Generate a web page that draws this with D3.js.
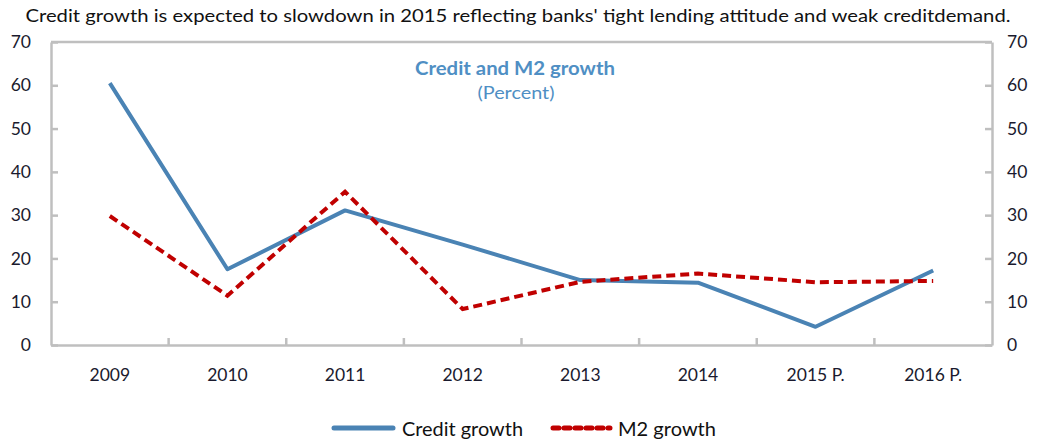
<!DOCTYPE html>
<html>
<head>
<meta charset="utf-8">
<script src="https://cdn.jsdelivr.net/npm/d3@7"></script>
<style>
  html, body { margin: 0; padding: 0; background: #fff; }
  svg { display: block; font-family: Lato, "Open Sans", sans-serif; }
</style>
</head>
<body>
<svg id="chart" width="1037" height="441"></svg>
<script>
// Categories and series (percent)
const years = ["2009", "2010", "2011", "2012", "2013", "2014", "2015 P.", "2016 P."];
const creditGrowth = [60.5, 17.5, 31.1, 23.2, 15.0, 14.4, 4.2, 17.2];
const m2Growth = [29.8, 11.4, 35.4, 8.3, 14.6, 16.5, 14.5, 14.8];
const yTicks = [0, 10, 20, 30, 40, 50, 60, 70];

const svg = d3.select("#chart");
const plotLeft = 51, plotRight = 992, plotTop = 42, plotBottom = 345;

const x = d3.scaleBand().domain(years).range([plotLeft, plotRight]);
const y = d3.scaleLinear().domain([0, 70]).range([plotBottom, plotTop]);

const axisColor = "#bfbfbf";
const textColor = "#1a1a2e";

// Title
svg.append("text")
  .attr("x", 518).attr("y", 22)
  .attr("text-anchor", "middle")
  .attr("font-size", 17.5)
  .attr("fill", "#111")
  .attr("textLength", 985)
  .attr("lengthAdjust", "spacingAndGlyphs")
  .text("Credit growth is expected to slowdown in 2015 reflecting banks' tight lending attitude and weak creditdemand.");

// Frame top
svg.append("line")
  .attr("x1", plotLeft).attr("x2", plotRight).attr("y1", plotTop).attr("y2", plotTop)
  .attr("stroke", axisColor).attr("stroke-width", 2.5);

// Left axis
const gL = svg.append("g").attr("transform", `translate(${plotLeft},0)`)
  .call(d3.axisLeft(y).tickValues(yTicks).tickSizeInner(-7).tickSizeOuter(0).tickPadding(20));
// Right axis
const gR = svg.append("g").attr("transform", `translate(${plotRight},0)`)
  .call(d3.axisRight(y).tickValues(yTicks).tickSizeInner(-7).tickSizeOuter(0).tickPadding(20));
// Bottom axis with ticks on category boundaries
const boundaries = d3.range(1, years.length).map(i => plotLeft + i * x.step());
const gB = svg.append("g").attr("transform", `translate(0,${plotBottom})`)
  .call(d3.axisBottom(x).tickSize(0).tickPadding(24));
gB.selectAll(".bound").data(boundaries).enter().append("line")
  .attr("class", "bound")
  .attr("x1", d => d).attr("x2", d => d).attr("y1", 0).attr("y2", -7)
  .attr("stroke", axisColor).attr("stroke-width", 2.5);

[gL, gR, gB].forEach(g => {
  g.select(".domain").attr("stroke", axisColor).attr("stroke-width", 2.5);
  g.selectAll(".tick line").attr("stroke", axisColor).attr("stroke-width", 2.5);
  g.selectAll(".tick text").attr("fill", textColor).attr("font-size", 17.5)
    .attr("font-family", "Lato, 'Open Sans', sans-serif");
});
gL.selectAll(".tick text").attr("x", -20);
gR.selectAll(".tick text").attr("x", 15);

// Inner heading
svg.append("text")
  .attr("x", 515).attr("y", 75).attr("text-anchor", "middle")
  .attr("font-size", 19).attr("font-weight", "bold").attr("fill", "#4f8fc4")
  .attr("textLength", 200).attr("lengthAdjust", "spacingAndGlyphs")
  .text("Credit and M2 growth");
svg.append("text")
  .attr("x", 516).attr("y", 99).attr("text-anchor", "middle")
  .attr("font-size", 18).attr("fill", "#4f8fc4")
  .attr("textLength", 77).attr("lengthAdjust", "spacingAndGlyphs")
  .text("(Percent)");

const cx = d => x(d) + x.bandwidth() / 2;
const line = vals => d3.line().x((d, i) => cx(years[i])).y(d => y(d))(vals);

const creditColor = "#4a83b4";
const m2Color = "#c00000";

svg.append("path").attr("d", line(creditGrowth))
  .attr("fill", "none").attr("stroke", creditColor).attr("stroke-width", 4)
  .attr("stroke-linejoin", "round");
svg.append("path").attr("d", line(m2Growth))
  .attr("fill", "none").attr("stroke", m2Color).attr("stroke-width", 4)
  .attr("stroke-dasharray", "9,5");

// Legend
const lg = svg.append("g");
lg.append("line").attr("x1", 334).attr("x2", 393).attr("y1", 428).attr("y2", 428)
  .attr("stroke", creditColor).attr("stroke-width", 5).attr("stroke-linecap", "round");
lg.append("text").attr("x", 402).attr("y", 436).attr("font-size", 19.5).attr("fill", "#111")
  .attr("textLength", 121).attr("lengthAdjust", "spacingAndGlyphs")
  .text("Credit growth");
lg.append("line").attr("x1", 553).attr("x2", 610).attr("y1", 428).attr("y2", 428)
  .attr("stroke", m2Color).attr("stroke-width", 5).attr("stroke-linecap", "round")
  .attr("stroke-dasharray", "6,5");
lg.append("text").attr("x", 618).attr("y", 436).attr("font-size", 19.5).attr("fill", "#111")
  .attr("textLength", 98).attr("lengthAdjust", "spacingAndGlyphs")
  .text("M2 growth");
</script>
</body>
</html>
